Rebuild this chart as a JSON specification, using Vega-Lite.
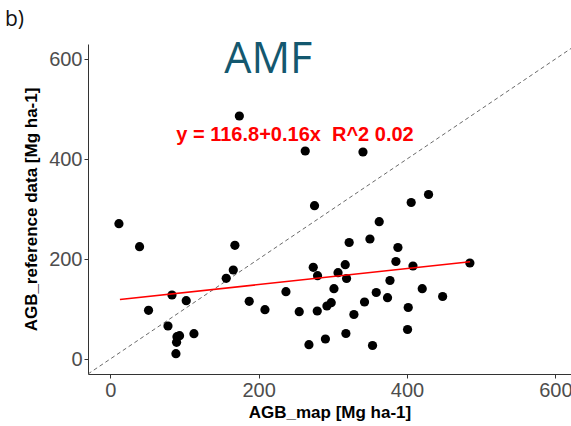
{
  "$schema": "https://vega.github.io/schema/vega-lite/v6.json",
  "width": 483,
  "height": 330,
  "autosize": {"type": "none"},
  "padding": {"left": 88, "top": 44, "right": 0, "bottom": 52},
  "background": "white",
  "title": {"text": "b)", "anchor": "start", "frame": "group", "dx": -83, "offset": 9, "fontSize": 21, "fontWeight": "normal", "font": "Open Sans", "color": "#111111"},
  "config": {"view": {"stroke": null}},
  "datasets": {
    "pts": [
      {"map": 11.7, "ref": 270.6}, {"map": 39.5, "ref": 224.6}, {"map": 51.6, "ref": 97.4},
      {"map": 83.2, "ref": 128}, {"map": 102.4, "ref": 116.6}, {"map": 77.8, "ref": 66},
      {"map": 89.9, "ref": 44.6}, {"map": 93.4, "ref": 46.6}, {"map": 89.4, "ref": 33.4},
      {"map": 88.5, "ref": 10.6}, {"map": 112.8, "ref": 50.6}, {"map": 156.3, "ref": 161.4},
      {"map": 165.8, "ref": 178}, {"map": 168, "ref": 227.4}, {"map": 262.8, "ref": 416},
      {"map": 275.3, "ref": 306.6}, {"map": 187.3, "ref": 115.4}, {"map": 208.5, "ref": 98.6},
      {"map": 236.8, "ref": 134.6}, {"map": 254.7, "ref": 94.6}, {"map": 273.6, "ref": 183.4},
      {"map": 279.4, "ref": 166.6}, {"map": 279, "ref": 96}, {"map": 292, "ref": 106},
      {"map": 267.8, "ref": 28.6}, {"map": 290, "ref": 40}, {"map": 174, "ref": 486},
      {"map": 340.6, "ref": 414}, {"map": 405.6, "ref": 313}, {"map": 429, "ref": 329},
      {"map": 362.5, "ref": 274.7}, {"map": 322, "ref": 233}, {"map": 350, "ref": 240},
      {"map": 387.7, "ref": 223}, {"map": 385, "ref": 195}, {"map": 316.7, "ref": 188.7},
      {"map": 307, "ref": 172.7}, {"map": 318.5, "ref": 161}, {"map": 408, "ref": 186},
      {"map": 484.7, "ref": 192}, {"map": 377, "ref": 157}, {"map": 301.5, "ref": 140.7},
      {"map": 420.5, "ref": 140.7}, {"map": 358.5, "ref": 133}, {"map": 373.7, "ref": 122.7},
      {"map": 448, "ref": 125}, {"map": 342.7, "ref": 114}, {"map": 297.8, "ref": 112.7},
      {"map": 328.4, "ref": 89}, {"map": 401.6, "ref": 103}, {"map": 400.7, "ref": 59},
      {"map": 317.6, "ref": 51}, {"map": 353.5, "ref": 27}
    ],
    "oneone": [{"map": -30, "ref": -30}, {"map": 630, "ref": 630}],
    "fit": [{"map": 13, "ref": 118.9}, {"map": 485, "ref": 194.4}],
    "labels": [
      {"map": 213, "ref": 599, "label": "AMF"}
    ],
    "eq": [
      {"map": 249, "ref": 448, "label": "y = 116.8+0.16x \u00a0R^2 0.02"}
    ]
  },
  "encoding": {
    "x": {"field": "map", "type": "quantitative",
      "scale": {"domain": [-30, 621], "nice": false, "zero": false},
      "axis": {"values": [0, 200, 400, 600], "grid": false, "title": "AGB_map [Mg ha-1]",
        "labelFontSize": 20, "labelColor": "#4D4D4D", "labelFont": "Liberation Sans", "labelPadding": 2,
        "tickColor": "#333333", "domainColor": "#333333", "tickSize": 4, "labelFlush": false,
        "titleFontSize": 17, "titleFont": "Liberation Sans", "titleFontWeight": "bold", "titleColor": "#000000", "titlePadding": 4}},
    "y": {"field": "ref", "type": "quantitative",
      "scale": {"domain": [-30, 630], "nice": false, "zero": false},
      "axis": {"values": [0, 200, 400, 600], "grid": false, "title": "AGB_reference data [Mg ha-1]",
        "labelFontSize": 20, "labelColor": "#4D4D4D", "labelFont": "Liberation Sans", "labelPadding": 2,
        "tickColor": "#333333", "domainColor": "#333333", "tickSize": 4,
        "titleFontSize": 17, "titleFont": "Liberation Sans", "titleFontWeight": "bold", "titleColor": "#000000", "titlePadding": 8}}
  },
  "layer": [
    {"data": {"name": "oneone"}, "mark": {"type": "line", "clip": true, "strokeDash": [4, 3], "color": "#444444", "strokeWidth": 0.8}},
    {"data": {"name": "pts"}, "mark": {"type": "circle", "color": "#000000", "opacity": 1, "size": 85}},
    {"data": {"name": "fit"}, "mark": {"type": "line", "color": "#FF0000", "strokeWidth": 1.5}},
    {"data": {"name": "labels"}, "mark": {"type": "text", "font": "Open Sans", "fontSize": 43, "color": "#14586F", "baseline": "middle", "align": "center"},
      "encoding": {"text": {"field": "label"}}},
    {"data": {"name": "eq"}, "mark": {"type": "text", "font": "Liberation Sans", "fontWeight": "bold", "fontSize": 20, "color": "#FF0000", "baseline": "middle", "align": "center"},
      "encoding": {"text": {"field": "label"}}}
  ]
}
